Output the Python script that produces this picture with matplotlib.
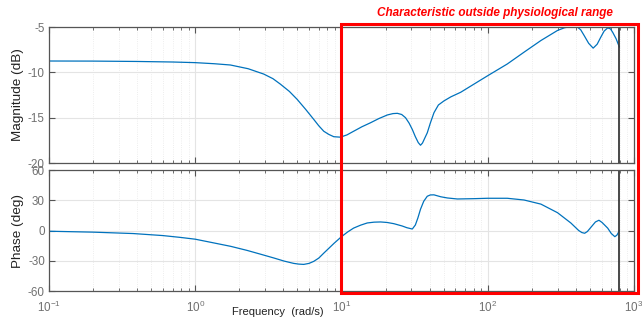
import matplotlib.pyplot as plt
from matplotlib.patches import Rectangle
from matplotlib.ticker import LogLocator, NullFormatter

# Frequency response (rad/s, dB, deg)
mag_freq = [0.1, 0.2, 0.4, 0.7, 1.0, 1.35, 1.74, 2.3, 2.94, 3.4, 3.82, 4.4,
            4.97, 5.7, 6.47, 7.0, 7.57, 8.2, 8.86, 9.84, 10.9, 12.1, 13.8,
            15.8, 18.0, 20.6, 22.5, 24.1, 25.8, 27.4, 29.0, 30.5, 32.0, 33.5,
            34.7, 35.8, 37.0, 38.6, 40.5, 42.9, 46, 50.2, 56, 65.3, 80.5, 100,
            136, 177, 231, 300, 335, 370, 395, 411, 432, 456, 490, 526, 560,
            594, 625, 661, 690, 714, 755, 794]
mag_db = [-8.75, -8.76, -8.8, -8.86, -8.93, -9.05, -9.19, -9.6, -10.19, -10.7,
          -11.3, -12.1, -12.97, -14.1, -15.2, -15.9, -16.5, -16.85, -17.1,
          -17.15, -16.9, -16.5, -16.0, -15.56, -15.1, -14.7, -14.55, -14.52,
          -14.65, -15.0, -15.6, -16.3, -17.1, -17.75, -18.04, -17.8, -17.3,
          -16.67, -15.6, -14.45, -13.6, -13.15, -12.7, -12.2, -11.3, -10.37,
          -9.08, -7.78, -6.49, -5.38, -5.08, -4.96, -4.96, -5.02, -5.3,
          -5.93, -6.8, -7.33, -6.9, -6.1, -5.45, -5.1, -5.2, -5.56, -6.3,
          -7.2]

ph_freq = [0.1, 0.2, 0.377, 0.6, 0.789, 1.0, 1.33, 1.75, 2.26, 2.8, 3.44,
           4.05, 4.71, 5.1, 5.52, 6.0, 6.46, 7.0, 7.57, 8.2, 8.86, 10, 11,
           12.1, 13.5, 15.0, 16.7, 18.5, 20.5, 22.8, 26, 28, 30.5, 32, 33.3,
           34.7, 36.5, 38.6, 40.5, 42.9, 47.7, 53, 62, 80, 100, 136, 177, 231,
           300, 370, 419, 440, 460, 480, 507, 545, 576, 605, 661, 700, 740,
           765, 794]
ph_deg = [-0.7, -1.6, -3.0, -5.0, -6.8, -8.6, -12.2, -15.7, -19.7, -23.5,
          -27.2, -30.3, -32.6, -33.3, -33.6, -32.6, -30.6, -27.3, -22.4,
          -17.6, -12.9, -6.1, -1.5, 2.4, 5.3, 7.5, 8.3, 8.5, 8.0, 6.8, 4.5,
          2.8, 1.5, 5.5, 12.5, 21.1, 29.0, 34.0, 35.3, 35.4, 33.5, 32.3, 31.3,
          31.6, 32.0, 32.0, 30.3, 26.2, 17.7, 7.5, 0.0, -2.0, -2.7, -1.0, 3.1,
          8.5, 10.2, 8.0, 2.4, -3.0, -6.1, -4.5, -0.3]

nyquist = 785
line_color = "#0072BD"
axis_gray = "#555555"
tick_gray = "#707070"


def style_axis(ax):
    """MATLAB-like box, grid and ticks"""
    ax.set_xscale("log")
    ax.set_xlim(0.1, 1000)
    ax.xaxis.set_major_locator(LogLocator(base=10, numticks=10))
    ax.xaxis.set_minor_locator(LogLocator(base=10, subs=range(2, 10), numticks=50))
    ax.xaxis.set_minor_formatter(NullFormatter())
    ax.grid(True, which="major", color="#e4e4e4", linewidth=0.8)
    ax.grid(True, which="minor", color="#e8e8e8", linewidth=0.6, linestyle=":")
    ax.set_axisbelow(True)
    ax.tick_params(which="both", direction="in", top=True, right=True,
                   colors=axis_gray, labelcolor=tick_gray, labelsize=8.4)
    ax.tick_params(which="major", length=4, pad=3)
    ax.tick_params(axis="x", which="major", pad=6)
    ax.tick_params(which="minor", length=2.5)
    for s in ax.spines.values():
        s.set_color(axis_gray)
        s.set_linewidth(0.9)
    ax.axvline(nyquist, color="#3a3a3a", linewidth=1.3)


def main():
    plt.rcParams["font.family"] = ["Liberation Sans", "DejaVu Sans"]
    plt.rcParams["axes.unicode_minus"] = False
    plt.rcParams["mathtext.fontset"] = "custom"
    plt.rcParams["mathtext.rm"] = "Liberation Sans"
    plt.rcParams["mathtext.it"] = "Liberation Sans:italic"
    plt.rcParams["mathtext.bf"] = "Liberation Sans:bold"
    fig = plt.figure(figsize=(6.42, 3.2), dpi=100)
    ax1 = fig.add_axes([0.0763, 0.4906, 0.9112, 0.425])
    ax2 = fig.add_axes([0.0763, 0.0906, 0.9112, 0.378])

    ax1.plot(mag_freq, mag_db, color=line_color, linewidth=0.9)
    ax1.set_ylim(-20, -5)
    ax1.set_yticks([-20, -15, -10, -5])
    style_axis(ax1)
    ax1.tick_params(axis="x", labelbottom=False)
    ax1.set_ylabel("Magnitude (dB)", fontsize=9.7, color="#222222")
    ax1.yaxis.set_label_coords(-0.043, 0.5)

    ax2.plot(ph_freq, ph_deg, color=line_color, linewidth=0.9)
    ax2.set_ylim(-60, 60)
    ax2.set_yticks([-60, -30, 0, 30, 60])
    style_axis(ax2)
    ax2.set_ylabel("Phase (deg)", fontsize=9.7, color="#222222")
    ax2.yaxis.set_label_coords(-0.043, 0.5)

    fig.text(0.432, 0.025, "Frequency  (rad/s)", fontsize=8, color="#222222",
             ha="center", va="center")

    # red box marking the range above 10 rad/s
    fig.canvas.draw()
    x0 = fig.transFigure.inverted().transform(ax1.transData.transform((10, -20)))[0]
    box = Rectangle((x0, 0.084), 0.994 - x0, 0.841, transform=fig.transFigure,
                    fill=False, edgecolor="#ff0000", linewidth=2.2, clip_on=False)
    fig.add_artist(box)
    fig.text(0.771, 0.958, "Characteristic outside physiological range",
             color="#ff0000", fontsize=8.5, fontweight="bold", fontstyle="italic",
             ha="center", va="center")

    fig.savefig("out.png", dpi=100)


if __name__ == "__main__":
    main()
